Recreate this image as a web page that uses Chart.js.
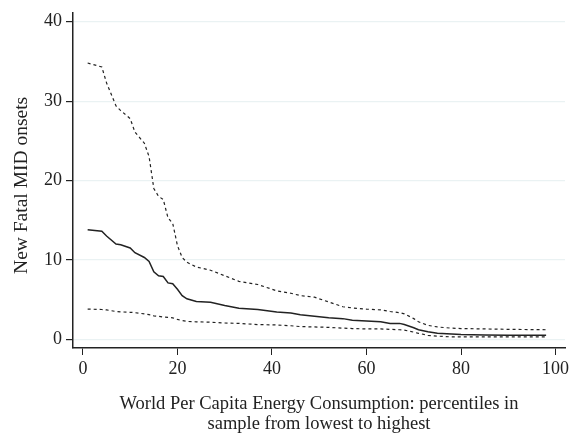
<!DOCTYPE html>
<html>
<head>
<meta charset="utf-8">
<script src="https://cdn.jsdelivr.net/npm/chart.js@4.4.0/dist/chart.umd.min.js"></script>
<style>
  html, body { margin: 0; padding: 0; background: #fff; }
</style>
</head>
<body>
<canvas id="chart" width="577" height="435"></canvas>
<script>
// percentiles of world per capita energy consumption (x)
const percentiles = [1, 4, 5, 7, 8, 10, 11, 13, 14, 15, 16, 17, 18, 19, 20, 21, 22, 24, 27, 30,
  33, 37, 41, 44, 46, 49, 52, 55, 57, 60, 63, 65, 67, 68, 70, 71, 73, 75, 78, 80, 85, 90, 98];

// predicted new fatal MID onsets
const estimate = [13.8, 13.6, 13.0, 12.0, 11.9, 11.5, 10.9, 10.3, 9.8, 8.5, 8.0, 7.9, 7.1, 7.0, 6.3, 5.5, 5.1, 4.75, 4.65, 4.25,
  3.9, 3.75, 3.45, 3.3, 3.1, 2.9, 2.7, 2.6, 2.4, 2.3, 2.2, 2.0, 2.0, 1.85, 1.45, 1.2, 0.95, 0.75, 0.65, 0.6, 0.55, 0.5, 0.5];

// upper and lower bounds
const upper = [34.8, 34.3, 32.3, 29.4, 28.8, 27.8, 26.1, 24.7, 23.0, 19.0, 18.0, 17.6, 15.3, 14.6, 11.8, 10.3, 9.7, 9.1, 8.7, 8.0,
  7.3, 6.9, 6.1, 5.8, 5.5, 5.3, 4.7, 4.1, 3.95, 3.8, 3.7, 3.5, 3.35, 3.2, 2.6, 2.2, 1.75, 1.55, 1.4, 1.35, 1.3, 1.25, 1.2];
const lower = [3.8, 3.75, 3.7, 3.5, 3.45, 3.4, 3.35, 3.2, 3.1, 2.95, 2.9, 2.8, 2.75, 2.7, 2.5, 2.35, 2.25, 2.2, 2.15, 2.05,
  2.0, 1.85, 1.8, 1.7, 1.6, 1.55, 1.5, 1.4, 1.35, 1.3, 1.3, 1.25, 1.2, 1.15, 0.9, 0.75, 0.5, 0.4, 0.3, 0.3, 0.3, 0.3, 0.3];

const xTicks = [0, 20, 40, 60, 80, 100];
const yTicks = [0, 10, 20, 30, 40];

function pts(arr) {
  return percentiles.map(function (x, i) { return { x: x, y: arr[i] }; });
}

const serif = "'Liberation Serif', 'DejaVu Serif', serif";
const ink = '#222';

var ctx = document.getElementById('chart').getContext('2d');
var myChart = new Chart(ctx, {
  type: 'line',
  data: {
    datasets: [
      { label: 'upper', data: pts(upper), borderColor: ink, borderWidth: 1.2, borderDash: [3, 3] },
      { label: 'estimate', data: pts(estimate), borderColor: ink, borderWidth: 1.5 },
      { label: 'lower', data: pts(lower), borderColor: ink, borderWidth: 1.2, borderDash: [3, 3] }
    ]
  },
  options: {
    responsive: false,
    animation: false,
    layout: { padding: { top: 8, right: 12, left: 0, bottom: 0 } },
    elements: { point: { radius: 0 }, line: { tension: 0, fill: false } },
    plugins: { legend: { display: false }, tooltip: { enabled: false } },
    scales: {
      x: {
        type: 'linear',
        min: -2.1,
        max: 102,
        afterBuildTicks: function (axis) { axis.ticks = xTicks.map(function (v) { return { value: v }; }); },
        afterFit: function (axis) { axis.height = 87; },
        border: { color: ink, width: 1.5 },
        grid: { drawOnChartArea: false, tickLength: 7, tickColor: ink },
        ticks: { color: ink, font: { family: serif, size: 18, lineHeight: 1.0 }, padding: 5, maxRotation: 0 },
        title: {
          display: true,
          text: ['World Per Capita Energy Consumption: percentiles in', 'sample from lowest to highest'],
          color: ink,
          font: { family: serif, size: 18.5, lineHeight: 1.08 },
          padding: { top: 0, bottom: 1 }
        }
      },
      y: {
        type: 'linear',
        min: -1.1,
        max: 41.1,
        afterBuildTicks: function (axis) { axis.ticks = yTicks.map(function (v) { return { value: v }; }); },
        afterFit: function (axis) { axis.width = 73; },
        border: { color: ink, width: 1.5 },
        grid: { color: '#eaf2f3', lineWidth: 1.2, tickLength: 7, tickColor: ink },
        ticks: { color: ink, font: { family: serif, size: 18, lineHeight: 1.0 }, padding: 4 },
        title: {
          display: true,
          text: 'New Fatal MID onsets  ',
          color: ink,
          font: { family: serif, size: 19.5 },
          padding: { top: 10, bottom: 10 }
        }
      }
    }
  }
});
</script>
</body>
</html>
